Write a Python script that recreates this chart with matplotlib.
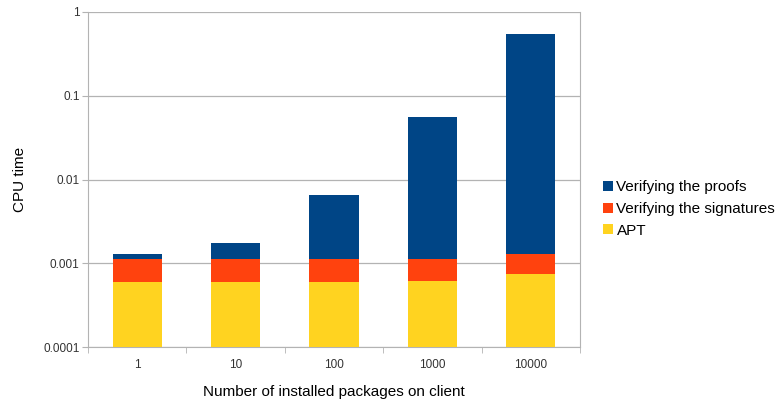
import numpy as np
import matplotlib.pyplot as plt

plt.rcParams['font.family'] = ['Liberation Sans', 'DejaVu Sans']

# Data (stacked segments, CPU time)
packages = ['1', '10', '100', '1000', '10000']
apt = [0.00059, 0.00059, 0.00059, 0.00061, 0.00075]
signatures = [0.00053, 0.00053, 0.00053, 0.00051, 0.00055]
proofs = [0.00018, 0.00064, 0.0055, 0.0549, 0.542]

colors = {'apt': '#ffd320', 'sig': '#ff420e', 'proof': '#004586'}

fig = plt.figure(figsize=(7.79, 4.03), dpi=100)
ax = fig.add_axes([88 / 779, 1 - 347 / 403, (580 - 88) / 779, (347 - 12) / 403])

x = np.arange(len(packages))
apt = np.array(apt)
sig = np.array(signatures)
proof = np.array(proofs)

b_apt = ax.bar(x, apt, width=0.5, color=colors['apt'], label='APT', zorder=3)
b_sig = ax.bar(x, sig, width=0.5, bottom=apt, color=colors['sig'], label='Verifying the signatures', zorder=3)
b_proof = ax.bar(x, proof, width=0.5, bottom=apt + sig, color=colors['proof'], label='Verifying the proofs', zorder=3)

ax.set_yscale('log')
ax.set_ylim(1e-4, 1)
ax.set_xlim(-0.5, len(packages) - 0.5)
ax.set_yticks([1e-4, 1e-3, 1e-2, 1e-1, 1])
ax.set_yticklabels(['0.0001', '0.001', '0.01', '0.1', '1'])
ax.yaxis.set_minor_locator(plt.NullLocator())

# category labels centered, tick marks on boundaries
ax.set_xticks(x)
ax.set_xticklabels(packages)
ax.tick_params(axis='x', length=0, pad=9, labelsize=8.5, colors='#333333')
ax.set_xticks(np.arange(-0.5, len(packages)), minor=True)
ax.tick_params(axis='x', which='minor', length=4, color='#b3b3b3')
ax.tick_params(axis='y', length=4, color='#b3b3b3', labelsize=8.5, labelcolor='#333333', pad=2)

ax.grid(axis='y', color='#b3b3b3', linewidth=0.9, zorder=0)
for s in ax.spines.values():
    s.set_color('#b3b3b3')
ax.spines['top'].set_visible(False)

ax.set_ylabel('CPU time', fontsize=11, labelpad=12)
ax.set_xlabel('Number of installed packages on client', fontsize=11, labelpad=10)

handles = [b_proof, b_sig, b_apt]
fig.legend(handles, [h.get_label() for h in handles], loc='center left',
           bbox_to_anchor=(589 / 779, 1 - 209 / 403), frameon=False, fontsize=11,
           handlelength=0.65, handleheight=0.65, handletextpad=0.25, labelspacing=0.5)

fig.savefig('out.png', dpi=100)
